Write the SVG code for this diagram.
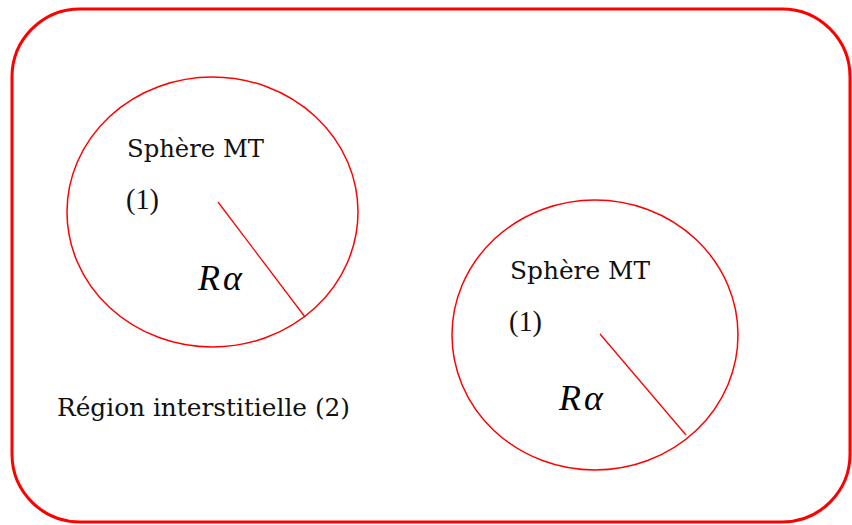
<svg xmlns="http://www.w3.org/2000/svg" width="852" height="525" viewBox="0 0 852 525">
<style>
.frame{fill:none;stroke:#ff0000;stroke-width:3}
.sphere{fill:none;stroke:#ff0000;stroke-width:1.5}
.radius{stroke:#ff0000;stroke-width:1.3;fill:none}
.lbl{font-family:"DejaVu Serif","Liberation Serif",serif;font-size:24px;fill:#111}
.paren{font-family:"Liberation Serif","DejaVu Serif",serif;font-size:30px;fill:#111}
.math{font-family:"Liberation Serif","DejaVu Serif",serif;font-style:italic;font-size:36px;fill:#000}
</style>
<rect width="852" height="525" fill="#ffffff"/>
<g id="region">
<rect class="frame" x="12" y="9" width="838" height="513" rx="68" ry="68"/>
<text class="lbl" x="57" y="416" textLength="293" lengthAdjust="spacingAndGlyphs">Région interstitielle (2)</text>
</g>
<g id="sphere1">
<ellipse class="sphere" cx="212.5" cy="212" rx="145.5" ry="135"/>
<text class="lbl" x="127" y="157" textLength="137" lengthAdjust="spacingAndGlyphs">Sphère MT</text>
<text class="paren" x="126" y="209" textLength="33" lengthAdjust="spacingAndGlyphs">(1)</text>
<text class="math" x="198" y="290" letter-spacing="3">Rα</text>
</g>
<g id="sphere2">
<ellipse class="sphere" cx="595" cy="335" rx="143" ry="135"/>
<text class="lbl" x="510" y="279" textLength="140" lengthAdjust="spacingAndGlyphs">Sphère MT</text>
<text class="paren" x="509" y="331" textLength="33" lengthAdjust="spacingAndGlyphs">(1)</text>
<text class="math" x="559" y="410" letter-spacing="3">Rα</text>
</g>
<g id="connectors">
<line class="radius" x1="218" y1="202" x2="305" y2="317"/>
<line class="radius" x1="600" y1="334" x2="686" y2="435"/>
</g>
</svg>
